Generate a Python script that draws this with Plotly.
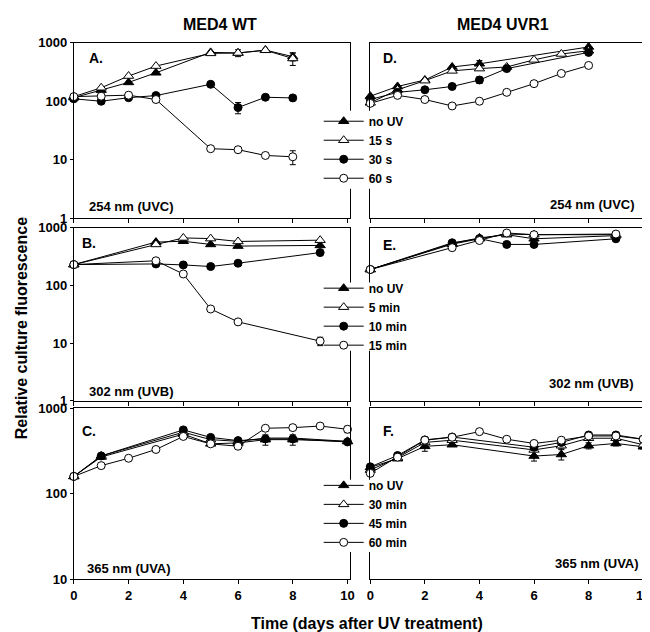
import plotly.graph_objects as go

W, H = 650, 632
FONT = "Arial, Liberation Sans, sans-serif"

# ---------------- data ----------------
# Panel A (MED4 WT, 254 nm UVC)
A_days = [0, 1, 2, 3, 5, 6, 7, 8]
A_noUV = [115, 155, 210, 307, 686, 670, 750, 580]
A_15s = [120, 170, 270, 400, 660, 670, 745, 540]
A_30s = [110, 100, 115, 125, 195, 78, 117, 114]
A_60s = [120, 122, 127, 107, 15.4, 14.8, 11.8, 11.2]
A_noUV_err = [None, None, None, None, None, 90, None, 90]
A_15s_err = [None, None, None, None, None, None, None, 130]
A_30s_err = [None, None, None, None, None, 17, None, None]
A_60s_err = [None, None, None, None, None, 1, None, 3]

# Panel D (MED4 UVR1, 254 nm UVC)
D_days_noUV = [0, 1, 2, 3, 4, 8]
D_noUV = [122, 179, 231, 386, 437, 850]
D_days_15s = [0, 1, 2, 3, 4, 5, 6, 7, 8]
D_15s = [94, 157, 225, 331, 362, 386, 511, 644, 731]
D_days_30s = [0, 1, 2, 3, 4, 5, 8]
D_30s = [107, 142, 157, 179, 231, 362, 686]
D_days_60s = [0, 1, 2, 3, 4, 5, 6, 7, 8]
D_60s = [92, 126, 107, 83, 100, 142, 200, 299, 410]
D_noUV_err = [None, None, None, None, 60, None]
D_30s_err = [None, None, None, None, 30, None, None]
D_60s_err = [None, None, None, None, 8, None, None, None, None]

# Panel B (MED4 WT, 302 nm UVB)
B_days = [0, 3, 4, 5, 6, 9]
B_noUV = [230, 565, 585, 515, 482, 495]
B_5min = [230, 515, 668, 650, 580, 610]
B_10min = [230, 236, 227, 213, 243, 372]
B_15min = [230, 268, 158, 39, 23.3, 10.8]
B_15min_err = [None, None, None, None, None, 1.8]

# Panel E (MED4 UVR1, 302 nm UVB)
E_days = [0, 3, 4, 5, 6, 9]
E_noUV = [189, 536, 668, 760, 645, 732]
E_5min = [189, 520, 645, 780, 760, 760]
E_10min = [189, 550, 650, 515, 515, 645]
E_15min = [189, 452, 602, 813, 760, 780]

# Panel C (MED4 WT, 365 nm UVA)
C_days = [0, 1, 4, 5, 6, 7, 8, 10]
C_noUV = [160, 270, 500, 385, 395, 431, 431, 410]
C_30min = [160, 278, 527, 431, 412, 450, 450, 412]
C_45min = [160, 278, 561, 458, 420, 440, 440, 405]
C_days_60 = [0, 1, 2, 3, 4, 5, 6, 7, 8, 9, 10]
C_60min = [160, 214, 261, 331, 470, 385, 361, 586, 596, 622, 570]
C_noUV_err = [None, None, None, None, None, 60, 60, None]
C_60min_err = [None, None, None, None, None, None, None, 40, 40, 40, 50]

# Panel F (MED4 UVR1, 365 nm UVA)
F_days = [0, 1, 2, 3, 6, 7, 8, 9, 10]
F_noUV = [204, 258, 360, 376, 277, 289, 366, 389, 356]
F_30min = [190, 265, 400, 425, 327, 366, 448, 448, 376]
F_45min = [207, 281, 428, 463, 351, 400, 489, 489, 436]
F_days_60 = [0, 1, 2, 3, 4, 5, 6, 7, 8, 9, 10]
F_60min = [174, 269, 425, 460, 535, 436, 389, 425, 476, 476, 436]
F_noUV_err = [None, None, 45, None, 35, 40, 30, 25, 20]
F_30min_err = [None, None, None, None, None, 30, None, None, None]

legend_UVC = ["no UV", "15 s", "30 s", "60 s"]
legend_UVB = ["no UV", "5 min", "10 min", "15 min"]
legend_UVA = ["no UV", "30 min", "45 min", "60 min"]

x_ticks = [0, 2, 4, 6, 8, 10]
y_ticks = [1, 10, 100, 1000]

# ---------------- styles ----------------
STYLES = [
    dict(symbol="triangle-up", size=9, color="black", line=dict(color="black", width=1)),
    dict(symbol="triangle-up", size=9, color="white", line=dict(color="black", width=1)),
    dict(symbol="circle", size=8, color="black", line=dict(color="black", width=1)),
    dict(symbol="circle", size=8, color="white", line=dict(color="black", width=1)),
]

fig = go.Figure()


def add(ax, days, vals, k, name, legend, show, err=None):
    tr = go.Scatter(
        x=days, y=vals, mode="lines+markers", name=name,
        xaxis="x" + ax, yaxis="y" + ax,
        line=dict(color="black", width=1),
        marker=STYLES[k], cliponaxis=False,
        legend=legend, showlegend=show,
    )
    if err is not None:
        tr.error_y = dict(type="data", array=err, symmetric=True,
                          color="black", thickness=1, width=3)
    fig.add_trace(tr)


# A
add("", A_days, A_noUV, 0, legend_UVC[0], "legend", True, A_noUV_err)
add("", A_days, A_15s, 1, legend_UVC[1], "legend", True, A_15s_err)
add("", A_days, A_30s, 2, legend_UVC[2], "legend", True, A_30s_err)
add("", A_days, A_60s, 3, legend_UVC[3], "legend", True, A_60s_err)
# B
add("2", B_days, B_noUV, 0, legend_UVB[0], "legend2", True)
add("2", B_days, B_5min, 1, legend_UVB[1], "legend2", True)
add("2", B_days, B_10min, 2, legend_UVB[2], "legend2", True)
add("2", B_days, B_15min, 3, legend_UVB[3], "legend2", True, B_15min_err)
# C
add("3", C_days, C_noUV, 0, legend_UVA[0], "legend3", True, C_noUV_err)
add("3", C_days, C_30min, 1, legend_UVA[1], "legend3", True)
add("3", C_days, C_45min, 2, legend_UVA[2], "legend3", True)
add("3", C_days_60, C_60min, 3, legend_UVA[3], "legend3", True, C_60min_err)
# D
add("4", D_days_noUV, D_noUV, 0, legend_UVC[0], "legend", False, D_noUV_err)
add("4", D_days_15s, D_15s, 1, legend_UVC[1], "legend", False)
add("4", D_days_30s, D_30s, 2, legend_UVC[2], "legend", False, D_30s_err)
add("4", D_days_60s, D_60s, 3, legend_UVC[3], "legend", False, D_60s_err)
# E
add("5", E_days, E_noUV, 0, legend_UVB[0], "legend2", False)
add("5", E_days, E_5min, 1, legend_UVB[1], "legend2", False)
add("5", E_days, E_10min, 2, legend_UVB[2], "legend2", False)
add("5", E_days, E_15min, 3, legend_UVB[3], "legend2", False)
# F
add("6", F_days, F_noUV, 0, legend_UVA[0], "legend3", False, F_noUV_err)
add("6", F_days, F_30min, 1, legend_UVA[1], "legend3", False, F_30min_err)
add("6", F_days, F_45min, 2, legend_UVA[2], "legend3", False)
add("6", F_days_60, F_60min, 3, legend_UVA[3], "legend3", False)

# ---------------- layout ----------------
def px(x):
    return x / W


def py(y):
    return 1 - y / H


tickfont = dict(family=FONT, size=13, color="black", weight="bold")

left_dom = [px(62.7), px(343)]
right_dom = [px(363.3), px(642)]
rows = {
    "A": [py(208), py(28.5)], "B": [py(395), py(218)], "C": [py(578), py(403)],
}


def xaxis(dom, anchor, labels, rng):
    return dict(domain=dom, anchor=anchor, range=rng, tickvals=x_ticks,
                ticks="outside", ticklen=4, tickcolor="black",
                showticklabels=labels, tickfont=tickfont,
                showline=True, linecolor="black", linewidth=1, mirror=True,
                showgrid=False, zeroline=False)


def yaxis(dom, anchor, rng, labels):
    return dict(domain=dom, anchor=anchor, type="log", range=rng,
                tickvals=y_ticks, ticktext=[str(v) for v in y_ticks],
                ticks="outside" if labels else "", ticklen=3, tickcolor="black",
                showticklabels=labels, tickfont=tickfont,
                showline=True, linecolor="black", linewidth=1, mirror=True,
                showgrid=False, zeroline=False)


LR = [0, 10.1]
RR = [0, 10.07]
fig.update_layout(
    xaxis=xaxis(left_dom, "y", False, LR),
    yaxis=yaxis(rows["A"], "x", [0, 3], True),
    xaxis2=xaxis(left_dom, "y2", False, LR),
    yaxis2=yaxis(rows["B"], "x2", [0, 3], True),
    xaxis3=xaxis(left_dom, "y3", True, LR),
    yaxis3=yaxis(rows["C"], "x3", [1, 3], True),
    xaxis4=xaxis(right_dom, "y4", False, RR),
    yaxis4=yaxis(rows["A"], "x4", [0, 3], False),
    xaxis5=xaxis(right_dom, "y5", False, RR),
    yaxis5=yaxis(rows["B"], "x5", [0, 3], False),
    xaxis6=xaxis(right_dom, "y6", True, RR),
    yaxis6=yaxis(rows["C"], "x6", [1, 3], False),
)

legfont = dict(family=FONT, size=12, color="black", weight="bold")
LEG_CENTERS = [138, 309, 511]
MASKS = [(98, 178), (274, 344), (476, 550)]


def legend(yc):
    return dict(x=px(311), y=py(yc), xanchor="left", yanchor="middle",
                bgcolor="rgba(0,0,0,0)", borderwidth=0, font=legfont,
                itemwidth=40, tracegroupgap=0)


fig.update_layout(legend=legend(LEG_CENTERS[0]), legend2=legend(LEG_CENTERS[1]),
                  legend3=legend(LEG_CENTERS[2]))

# white masks that interrupt the frame lines behind each legend
shapes = []
for top, bot in MASKS:
    shapes.append(dict(type="rect", xref="paper", yref="paper",
                       x0=px(318), x1=px(369), y0=py(bot), y1=py(top),
                       fillcolor="white", line=dict(width=0), layer="above"))

ann = []


def text(x, y, s, size=13, xanchor="left", angle=0):
    ann.append(dict(x=px(x), y=py(y), xref="paper", yref="paper", text=s,
                    showarrow=False, xanchor=xanchor, yanchor="middle",
                    textangle=angle,
                    font=dict(family=FONT, size=size, color="black", weight="bold")))


text(211, 10, "MED4 WT", 16, "center")
text(498, 10, "MED4 UVR1", 16, "center")
text(10, 321, "Relative culture fluorescence", 16, "center", -90)
text(360, 623, "Time (days after UV treatment)", 16, "center")
for lab, x, y in [("A.", 76, 44), ("B.", 69, 234), ("C.", 69, 426),
                  ("D.", 374, 44), ("E.", 374, 236), ("F.", 374, 426)]:
    text(x, y, lab, 14)
text(76, 196, "254 nm (UVC)")
text(76, 386, "302 nm (UVB)")
text(74, 567, "365 nm (UVA)")
text(634, 194, "254 nm (UVC)", xanchor="right")
text(633, 377, "302 nm (UVB)", xanchor="right")
text(638, 562, "365 nm (UVA)", xanchor="right")

fig.update_layout(
    annotations=ann, shapes=shapes,
    width=W, height=H,
    margin=dict(l=0, r=0, t=0, b=0),
    paper_bgcolor="white", plot_bgcolor="white",
    font=dict(family=FONT, color="black"),
)

fig.write_html("out.html")
